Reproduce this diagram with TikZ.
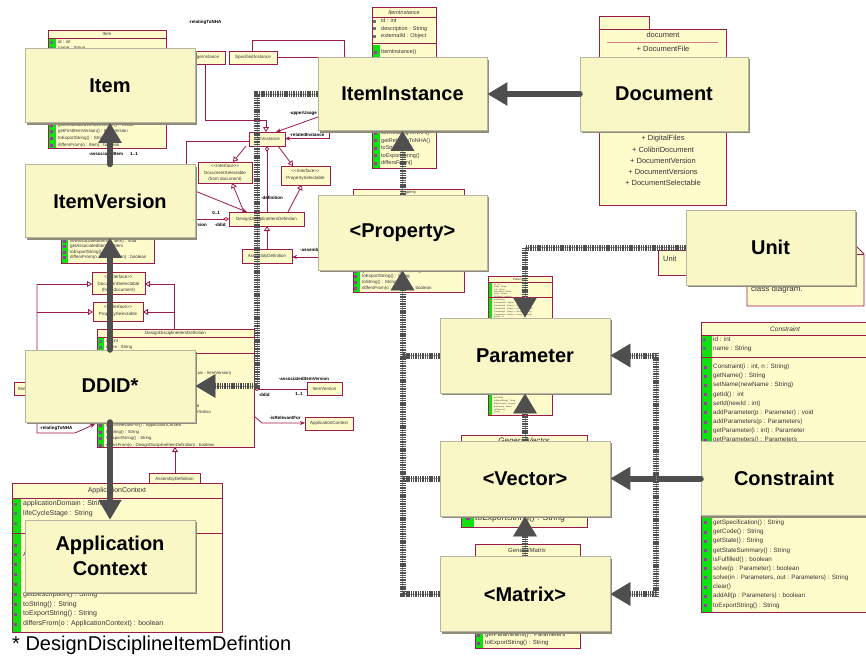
\documentclass[tikz,border=0pt]{standalone}
\usepackage{fontspec}
\setmainfont{Liberation Sans}
\usetikzlibrary{arrows.meta,shadows}
\definecolor{umlred}{HTML}{9E1A4C}
\definecolor{umlfill}{HTML}{FFFCCC}
\definecolor{bigfill}{HTML}{FAF7C6}
\definecolor{bigline}{HTML}{B8B6A0}
\definecolor{shadowc}{HTML}{8E8C78}
\definecolor{arrdark}{HTML}{4F4F4F}
\definecolor{arrlight}{HTML}{A0A0A0}
\definecolor{umlgreen}{HTML}{10E010}
\definecolor{txtc}{HTML}{333333}
\definecolor{iconp}{HTML}{9A3AA0}
\definecolor{icong}{HTML}{5A7A7A}
\definecolor{pinkline}{HTML}{D07A8A}
\newcommand{\umlrows}[5]{\foreach \rtxt [count=\ri from 0] in {#5} {\node[rowtxt,font=\fontsize{#4}{#4}\selectfont] at (#1,{#2+\ri*#3}) {\rtxt};}}
\newcommand{\umlicons}[5]{\foreach \ri in {1,...,#4} {\fill[#5] (#1,{#2+(\ri-1)*#3-1.5}) rectangle ++(3,3);}}
\begin{document}
\begin{tikzpicture}[x=1pt,y=-1pt,
 umlbox/.style={draw=umlred,fill=umlfill,line width=0.9pt},
 umlline/.style={draw=umlred,line width=0.8pt},
 opentri/.style={-{Triangle[length=5pt,width=6pt,fill=white]}},
 assoc/.style={-{Stealth[length=5pt,width=4pt]}},
 diamS/.style={{Diamond[length=6pt,width=4pt,fill=white]}-},
 diamE/.style={-{Diamond[length=6pt,width=4pt,fill=white]}},
 stxt/.style={font=\fontsize{4.5}{5}\selectfont,text=txtc,inner sep=0,align=center},
 rowtxt/.style={anchor=west,text=txtc,inner sep=0},
 lbl/.style={font=\fontsize{4.5}{5}\selectfont\bfseries,inner sep=0},
 bigbox/.style={draw=bigline,line width=0.5pt,fill=bigfill,font=\fontsize{20}{25}\selectfont\bfseries,align=center,inner sep=0pt,minimum width=170pt,minimum height=74pt,drop shadow={shadow xshift=2pt,shadow yshift=-2pt,fill=shadowc,opacity=1}},
 solidarr/.style={draw=arrdark,line width=6pt,line cap=round,-{Triangle[length=20pt,width=22pt]}},
 dasharr/.style={draw=arrdark,line width=6pt,dash pattern=on 1.4pt off 0.9pt,preaction={draw=arrlight,solid},-{Triangle[length=20pt,width=22pt]}},
 dashline/.style={draw=arrdark,line width=6pt,dash pattern=on 1.4pt off 0.9pt,preaction={draw=arrlight,solid}},
]
\useasboundingbox[fill=white] (0,0) rectangle (866,659);

%%%%%%%% background UML diagram
\node[lbl] at (205,22) {-relatingToNHA};
% Item class
\draw[umlbox] (48,30) rectangle (166,148);
\fill[umlgreen] (48.5,38.5) rectangle (56,147.5);
\draw[umlred,line width=0.6pt] (48,38) -- (166,38);
\node[stxt] at (107,34) {Item};
\umlicons{49.5}{42}{6.5}{2}{icong}
\umlrows{58}{42}{6.5}{4.5}{id : int, name : String}
\umlicons{49.5}{125}{6.7}{4}{iconp}
\umlrows{58}{125}{6.7}{4.5}{getAssociatedVersionVector() : Vector, getFirstItemVersion() : ItemVersion, toExportString() : String, differsFrom(o : Item) : boolean}
\node[lbl] at (106,154) {-associatedItem};
\node[lbl] at (134,154) {1..1};
% instances
\draw[umlbox] (180,51) rectangle (225,64); \node[stxt] at (204,57.5) {UsageInstance};
\draw[umlbox] (229,51) rectangle (277,64); \node[stxt] at (253,57.5) {SpecifiedInstance};
\draw[umlline] (252,51) -- (252,40) -- (344,40) -- (344,57) -- (277,57);
\draw[umlline,opentri] (205,64) -- (205,120) -- (266,120) -- (266,132);
\draw[umlbox] (249,132) rectangle (285,146); \node[stxt] at (267,139) {ItemInstance};
\draw[umlline,assoc] (318,117) -- (276,132);
\node[lbl] at (303,113) {-upperUsage};
\draw[umlline,assoc] (329,122) -- (329,138.5) -- (285,138.5);
\node[lbl] at (307,134.5) {-relatedInstance};
\draw[umlline] (249,141) -- (186,141) -- (186,166);
\draw[umlbox] (198,162) rectangle (252,183);
\node[stxt] at (225,166) {<{}<Interface>{}>};
\node[stxt] at (225,172.5) {DocumentSelectable};
\node[stxt] at (225,179) {(from document)};
\draw[umlbox] (281,166) rectangle (330,185);
\node[stxt] at (305.5,171) {<{}<Interface>{}>};
\node[stxt] at (305.5,178.5) {PropertySelectable};
\draw[umlline,opentri] (246,146) -- (233,162);
\draw[umlline,opentri] (278,146) -- (293,166);
\draw[umlline,diamS] (267,146) -- (267,212);
\node[lbl] at (272,198) {-definition};
\draw[umlbox] (229,212) rectangle (304,226); \node[stxt] at (266.5,219) {DesignDisciplineItemDefinition};
\draw[umlline,opentri] (244,212) -- (232,183);
\draw[umlline,opentri] (288,212) -- (302,185);
\draw[umlline,assoc] (195,191) -- (247,212);
\draw[umlline,diamE] (195,219) -- (229,219);
\node[lbl] at (216,212.5) {0..1};
\node[lbl] at (220,224.5) {-ddid};
\node[lbl,anchor=east] at (207,225) {-associatedItemVersion};
\draw[umlbox] (242,249) rectangle (292,263); \node[stxt] at (267,256) {AssemblyDefinition};
\draw[umlline,opentri] (267,249) -- (267,226);
\draw[umlline,assoc] (318,257) -- (292,257);
\node[lbl,anchor=west] at (300,250) {-assemblyDefinition};
% ItemVersion class
\draw[umlbox] (61,170) rectangle (154,263);
\fill[umlgreen] (61.5,170.5) rectangle (68,262.5);
\umlicons{62.5}{241}{5.6}{4}{iconp}
\umlrows{70}{241}{5.6}{4.5}{setAssociatedItem(i : Item) : void, getAssociatedItem() : Item, toExportString() : String, differsFrom(o : ItemVersion) : boolean}
% left interfaces
\draw[umlline,opentri] (37,284) -- (92,284);
\draw[umlline,opentri] (37,312) -- (93,312);
\draw[umlline,opentri] (174,329) -- (174,284) -- (145,284);
\draw[umlline,opentri] (174,312) -- (143,312);
\draw[umlline,assoc] (37,284) -- (37,433) -- (75,433) -- (95,424);
\node[lbl] at (56,428) {-relatingToNHA};
\draw[umlbox] (92,272) rectangle (145,294);
\node[stxt] at (118.5,277) {<{}<Interface>{}>};
\node[stxt] at (118.5,283.5) {DocumentSelectable};
\node[stxt] at (118.5,290) {(from document)};
\draw[umlbox] (93,302) rectangle (143,321);
\node[stxt] at (118,307) {<{}<Interface>{}>};
\node[stxt] at (118,314.5) {PropertySelectable};
\draw[umlbox] (14,382) rectangle (62,395); \node[stxt,anchor=west] at (18,388.5) {Item};
% DDI class
\draw[umlbox] (97,329) rectangle (254,447);
\fill[umlgreen] (97.5,337.5) rectangle (104,446.5);
\draw[umlred,line width=0.6pt] (97,337) -- (254,337);
\draw[umlred,line width=0.6pt] (97,353) -- (254,353);
\node[stxt] at (175.5,333) {DesignDisciplineItemDefinition};
\umlicons{98.5}{341}{6.5}{2}{icong}
\umlrows{106}{341}{6.5}{4.3}{id : int, name : String}
\umlicons{98.5}{360.5}{6.5}{14}{iconp}
\umlrows{106}{360.5}{6.5}{4.3}{{}, {DesignDisciplineItemDefinition(i : int, n : String)}, {DesignDisciplineItemDefinition(i : int, n : String, aiv : ItemVersion)}, {}, {}, {}, {}, setAssociatedItemVersion(v : ItemVersion) : void, getAssemblyDefinitionOfVersion() : AssemblyDefinition, setIsRelevantFor(a : ApplicationContext) : void, getIsRelevantFor() : ApplicationContext, toString() : String, toExportString() : String, differsFrom(o : DesignDisciplineItemDefinition) : boolean}
% right of DDI
\draw[umlline,diamS] (254,389) -- (307,389);
\draw[umlbox] (307,382) rectangle (342,395); \node[stxt] at (324.5,388.5) {ItemVersion};
\node[lbl] at (304,378.5) {-associatedItemVersion};
\node[lbl] at (299,393.5) {1..1};
\node[lbl] at (264,395) {-ddid};
\draw[umlline,assoc] (254,416) -- (262,423) -- (305,423);
\node[lbl] at (285,418) {-isRelevantFor};
\draw[umlbox] (305,417) rectangle (353,430); \node[stxt] at (329,423.5) {ApplicationContext};
% AssemblyDefinition lower
\draw[umlline,opentri] (175,473) -- (175,447);
\draw[umlbox] (149,473) rectangle (200,486); \node[stxt] at (174.5,479.5) {AssemblyDefinition};
% ApplicationContext class
\draw[umlbox] (12,483) rectangle (222,632);
\fill[umlgreen] (12.5,498.5) rectangle (20.5,631.5);
\draw[umlred,line width=0.6pt] (12,498) -- (222,498);
\draw[umlred,line width=0.6pt] (12,533) -- (222,533);
\node[font=\fontsize{7}{8}\selectfont,text=txtc,inner sep=0] at (117,491) {ApplicationContext};
\umlicons{14}{504}{9.5}{3}{icong}
\umlrows{23}{504}{9.5}{7}{applicationDomain : String, lifeCycleStage : String, {}}
\umlicons{14}{545}{9.9}{9}{iconp}
\umlrows{23}{545}{9.88}{7}{{}, {ApplicationContext(d : String, l : String, s : String)}, {}, {}, {}, getDescription() : String, toString() : String, toExportString() : String, differsFrom(o : ApplicationContext) : boolean}
% ItemInstance class
\draw[umlbox] (372,7) rectangle (436,168);
\fill[umlgreen] (372.5,45) rectangle (379.5,167.5);
\draw[umlred,line width=0.6pt] (372,17) -- (436,17);
\draw[umlred,line width=0.6pt] (372,43) -- (436,43);
\node[font=\fontsize{5.5}{6}\selectfont\itshape,text=txtc,inner sep=0] at (404,12.5) {ItemInstance};
\umlicons{373}{21}{7.6}{3}{icong}
\umlrows{381}{21}{7.6}{5.5}{id : int, description : String, externalId : Object}
\umlicons{373.5}{52}{7.4}{16}{iconp}
\umlrows{381}{52}{7.4}{5.5}{ItemInstance()}
\umlrows{381}{133.4}{7.4}{5.5}{setRelatingToNHA(), getRelatingToNHA(), toString(), toExportString(), differsFrom()}
% document package
\draw[umlbox] (599,16) rectangle (649,29);
\draw[umlbox] (599,29) rectangle (726,205);
\node[font=\fontsize{7.5}{8}\selectfont,text=txtc,inner sep=0] at (663,35) {document};
\draw[pinkline,line width=1pt] (607,42) -- (718,42);
\foreach \dy/\dt in {49/{+ DocumentFile},138.5/{+ DigitalFiles},149.5/{+ ColibriDocument},160.5/{+ DocumentVersion},171.5/{+ DocumentVersions},182.5/{+ DocumentSelectable}}
  {\node[font=\fontsize{7.5}{8}\selectfont,text=txtc,inner sep=0] at (663,\dy) {\dt};}
% Property class
\draw[umlbox] (353,189) rectangle (464,292);
\fill[umlgreen] (353.5,197) rectangle (360,291.5);
\draw[umlred,line width=0.6pt] (353,197) -- (464,197);
\node[font=\fontsize{4}{4}\selectfont,text=txtc,inner sep=0] at (408.5,193) {Property};
\umlicons{354}{271}{5.7}{4}{iconp}
\umlrows{362}{271}{5.7}{4.5}{getValueFromString() : String, toExportString() : String, toString() : String, differsFrom(o : Property) : boolean}
% Unit class and note
\draw[umlbox] (658,250) rectangle (700,275);
\node[font=\fontsize{7.5}{8}\selectfont,text=txtc,inner sep=0,anchor=west] at (663,258.5) {Unit};
\draw[umlbox] (747,242) -- (852,242) -- (864,254) -- (864,306) -- (747,306) -- cycle;
\draw[umlline] (852,242) -- (852,254) -- (864,254);
\node[font=\fontsize{8}{9}\selectfont,text=txtc,inner sep=0,anchor=west] at (751,289) {class diagram.};
% Parameter class
\draw[umlbox] (488,276) rectangle (552,415);
\fill[umlgreen] (488.5,282) rectangle (492,414.5);
\draw[umlred,line width=0.5pt] (488,282) -- (552,282);
\draw[umlred,line width=0.5pt] (488,297) -- (552,297);
\node[font=\fontsize{3}{3}\selectfont,text=txtc,inner sep=0] at (520,279) {Parameter};
\umlrows{494}{285}{2.3}{2}{id : int, name : String, unit : String, description : String, value : Double, isDefined : boolean}
\umlrows{494}{300}{2.9}{2}{Parameter(), Parameter(id : Object), {Parameter(n : String, u : String)}, {Parameter(n : String, u : String, v : Double)}, {Parameter(n : String, v : String, d : String)}, {Parameter(n : String, u : String, v : String)}, getId() : int}
\umlrows{494}{395}{2.9}{2}{isFixed() : boolean, setFixed(), toExportString() : String, differsFrom(o) : boolean, getOwner() : Object, setOwner(o), clear()}
% GeneralVector
\draw[umlbox] (461,435) rectangle (587,527);
\fill[umlgreen] (461.5,445) rectangle (474,526.5);
\node[font=\fontsize{8}{9}\selectfont\itshape,text=txtc,inner sep=0] at (524,440.5) {GeneralVector};
\fill[iconp] (466,516) rectangle ++(4,4);
\node[rowtxt,font=\fontsize{8.5}{9}\selectfont] at (475,518) {toExportString() : String};
% GeneralMatrix
\draw[umlbox] (475,544) rectangle (580,648);
\fill[umlgreen] (475.5,556) rectangle (483,647.5);
\draw[umlred,line width=0.6pt] (475,556) -- (580,556);
\node[font=\fontsize{6}{7}\selectfont\itshape,text=txtc,inner sep=0] at (527,550) {GeneralMatrix};
\umlicons{477}{635}{8}{2}{iconp}
\umlrows{485}{635}{8}{6}{getParameters() : Parameters, toExportString() : String}
% Constraint
\draw[umlbox] (701,322) rectangle (880,612);
\fill[umlgreen] (701.5,335.5) rectangle (712,611.5);
\draw[umlred,line width=0.6pt] (701,335) -- (880,335);
\draw[umlred,line width=0.6pt] (701,357) -- (880,357);
\node[font=\fontsize{6.5}{7}\selectfont\itshape,text=txtc,inner sep=0] at (785,329) {Constraint};
\umlicons{703}{339.5}{9}{2}{icong}
\umlrows{713}{339.5}{9}{6.3}{id : int, name : String}
\umlicons{703.5}{367}{9.17}{27}{iconp}
\umlrows{713}{367}{9.17}{6.3}{{Constraint(i : int, n : String)}, getName() : String, setName(newName : String), getId() : int, setId(newId : int), addParameter(p : Parameter) : void, addParameters(p : Parameters), getParameter(i : int) : Parameter, getParameters() : Parameters, {}, {}, {}, {}, {}, {}, {}, {}, getSpecification() : String, getCode() : String, getState() : String, getStateSummary() : String, isFulfilled() : boolean, solve(p : Parameter) : boolean, {solve(in : Parameters, out : Parameters) : String}, clear(), addAll(p : Parameters) : boolean, toExportString() : String}

%%%%%%%% overlay boxes
\node[bigbox] (item) at (110,85.5) {Item};
\node[bigbox,minimum height=73pt] (itemversion) at (110,201) {ItemVersion};
\node[bigbox,minimum height=72pt] (ddid) at (110,386) {DDID*};
\node[bigbox,minimum height=72pt] (appctx) at (110,556) {Application\\Context};
\node[bigbox,minimum width=169pt,minimum height=73pt] (iteminst) at (402.5,94) {ItemInstance};
\node[bigbox,minimum width=168pt] (document) at (664,94) {Document};
\node[bigbox,minimum width=169pt,minimum height=75pt] (property) at (402.5,232.5) {<Property>};
\node[bigbox,minimum width=169pt,minimum height=75pt] (unit) at (770.5,247.5) {Unit};
\node[bigbox,minimum height=75pt] (parameter) at (525,355.5) {Parameter};
\node[bigbox,minimum height=75pt] (vector) at (525,478.5) {<Vector>};
\node[bigbox,minimum height=75pt] (matrix) at (525,594) {<Matrix>};
\node[bigbox,minimum width=166pt] (constraint) at (784,478.5) {Constraint};

%%%%%%%% connectors
\draw[solidarr] (itemversion.north) -- (item.south);
\draw[solidarr] (ddid.north) -- (itemversion.south);
\draw[solidarr] (ddid.south) -- (appctx.north);
\draw[solidarr] (document.west) -- (iteminst.east);
\draw[dasharr] (property.north) -- (iteminst.south);
\coordinate (jA) at (257,386);
\draw[dasharr] (iteminst.west) -| (jA) -- (ddid.east);
\draw[dasharr] (unit.west) -| (parameter.north);
\draw[dashline] (parameter.west) -- (parameter.west -| property.south);
\draw[dashline] (vector.west) -- (vector.west -| property.south);
\draw[dasharr] (matrix.west) -| (property.south);
\draw[dasharr] (vector.north) -- (parameter.south);
\draw[dasharr] (matrix.north) -- (vector.south);
\draw[solidarr] (constraint.west) -- (vector.east);
\coordinate (k1) at (656,355.5);
\coordinate (k2) at (656,594);
\draw[dashline] ([yshift=3pt]k1) -- ([yshift=-3pt]k2);
\draw[dasharr] (k1) -- (parameter.east);
\draw[dasharr] (k2) -- (matrix.east);

\node[anchor=west,inner sep=0,font=\fontsize{20}{24}\selectfont] (foot) at (12,645) {* DesignDisciplineItemDefintion};
\end{tikzpicture}
\end{document}
